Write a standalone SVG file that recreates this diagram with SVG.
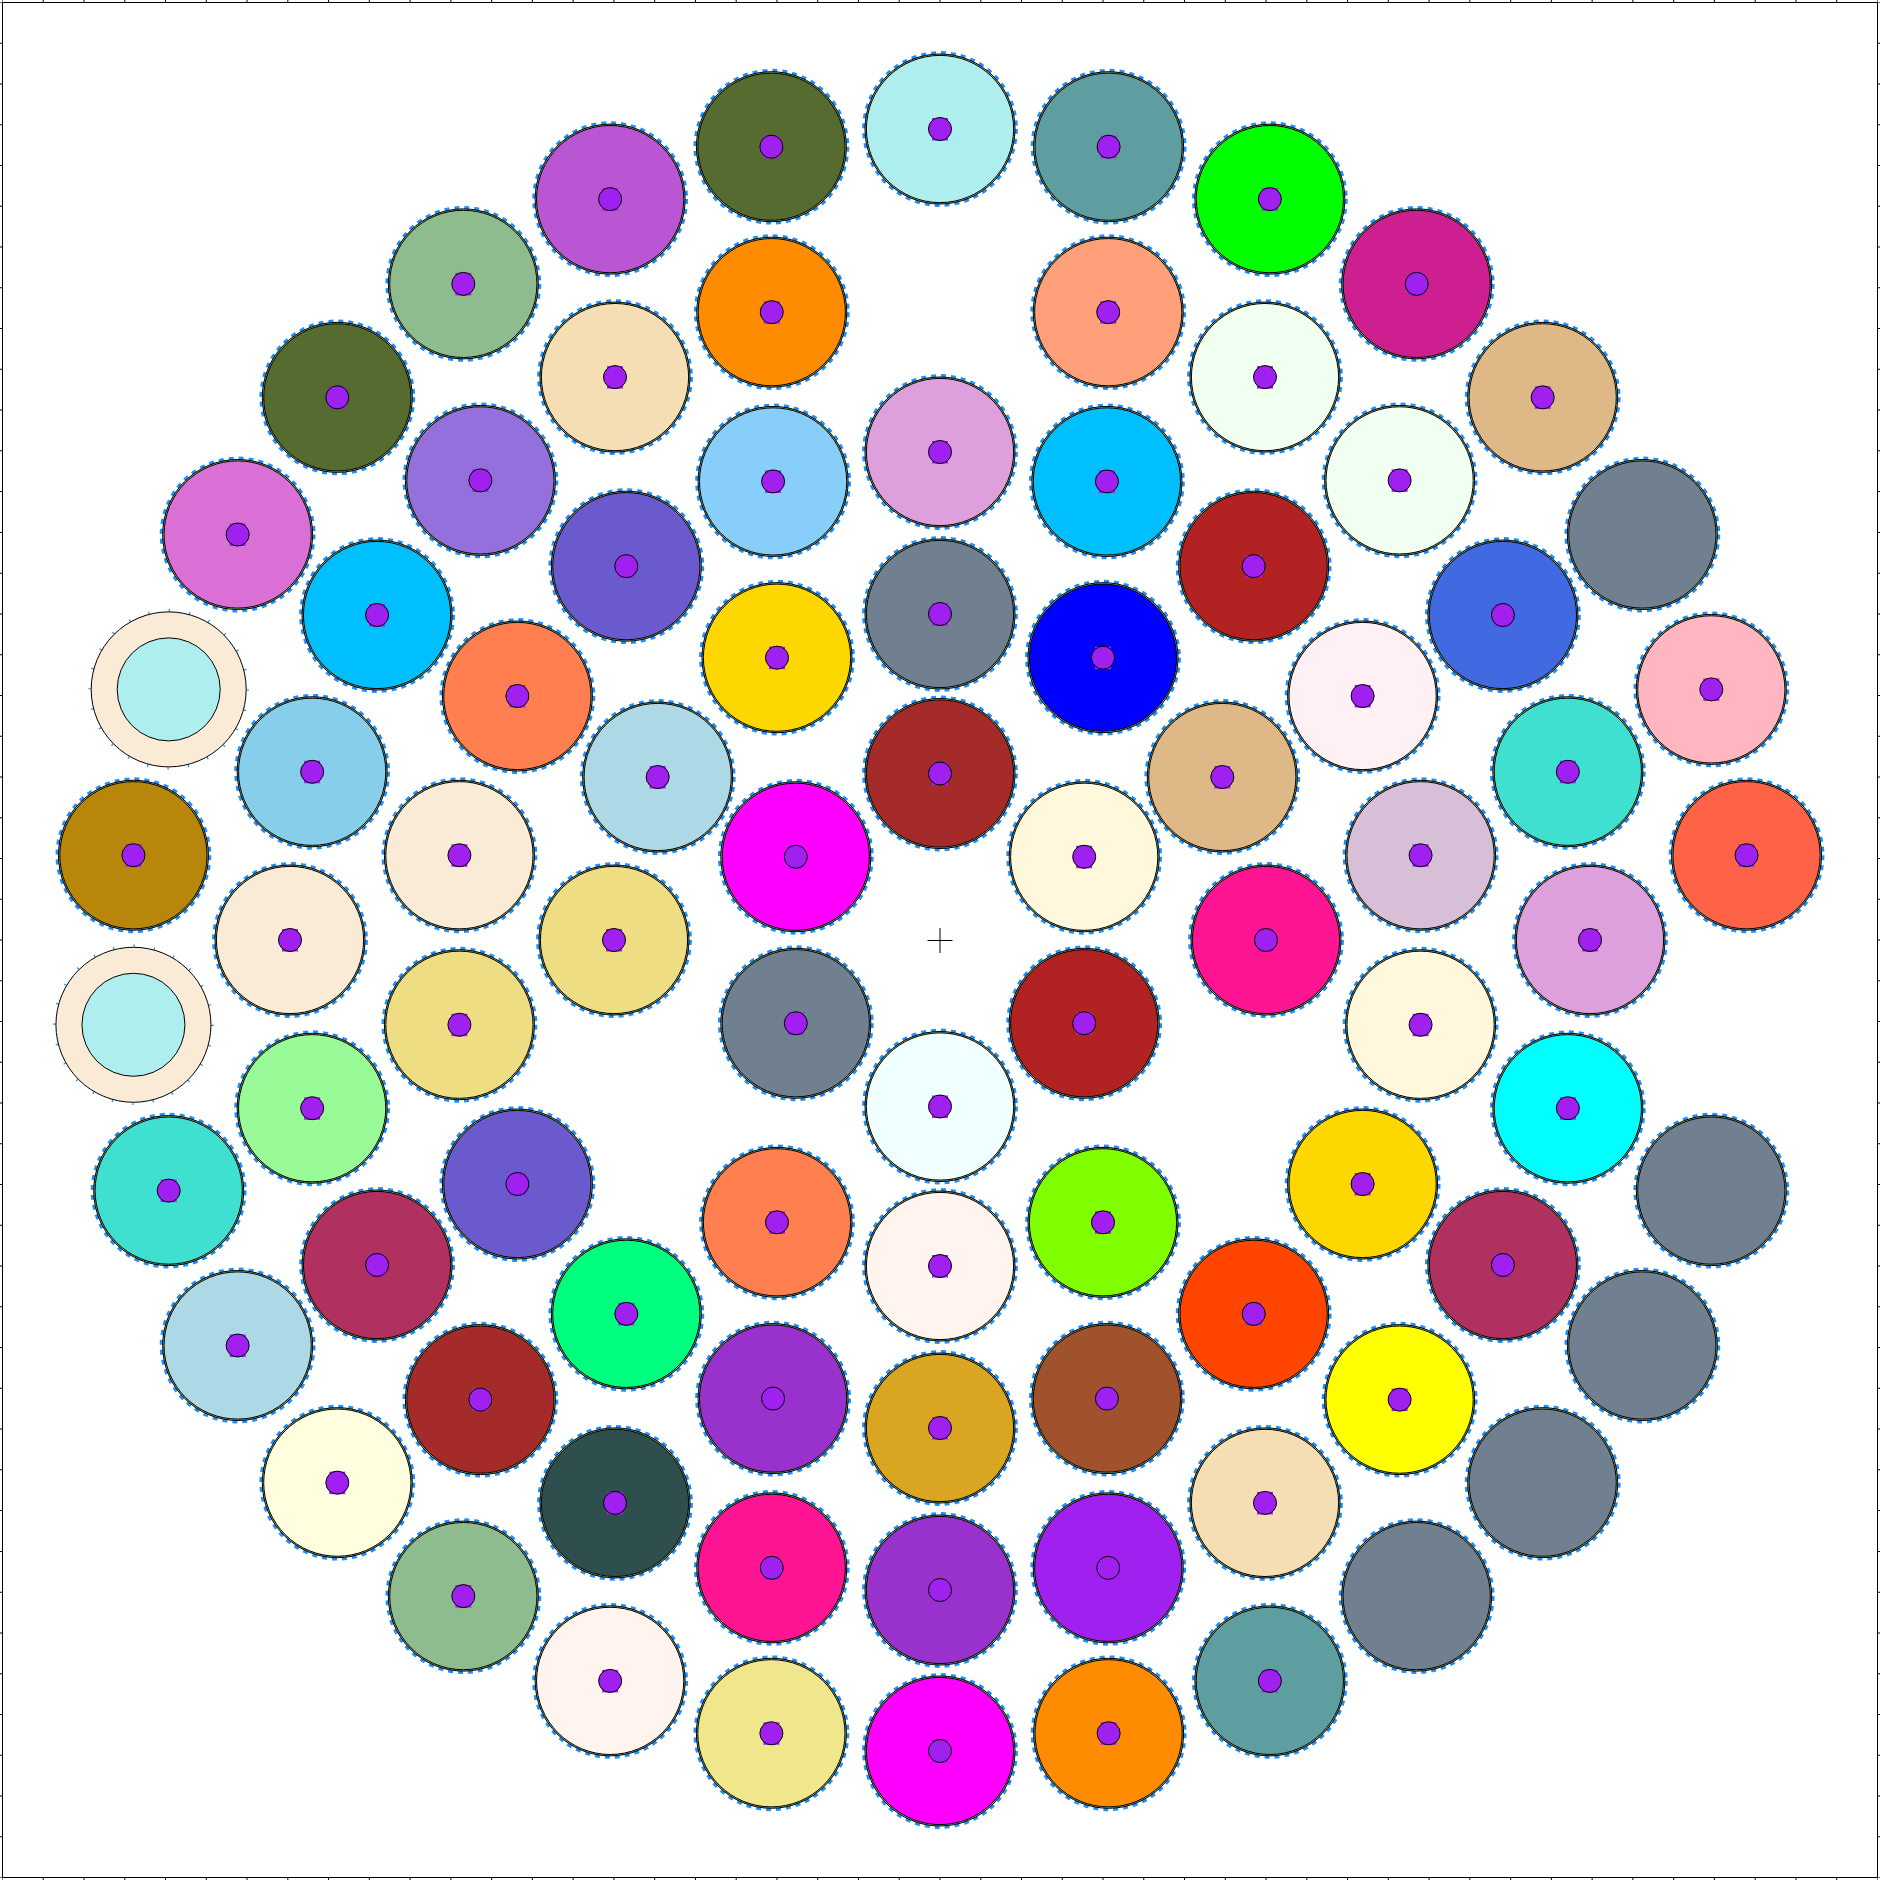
<svg xmlns="http://www.w3.org/2000/svg" xmlns:xlink="http://www.w3.org/1999/xlink" width="1880" height="1880" viewBox="0 0 1880 1880">
<style>
.c{stroke:#000;stroke-width:1}
.tk{stroke:#000;stroke-width:2.5;stroke-dasharray:1 39.76;stroke-dashoffset:0.5}
</style>
<defs>
<g id="rim"><circle r="76.3" fill="none" stroke="#1e90ff" stroke-width="3.2" stroke-dasharray="5 5"/><circle r="75" fill="#8fbc8f" stroke="#000" stroke-width="1"/></g>
<g id="dot"><rect x="-8" y="-11" width="16" height="22.5" fill="#a020f0"/><circle r="11.5" fill="#a020f0" stroke="#000" stroke-width="1"/></g>
<g id="spec"><circle r="78.8" fill="none" stroke="#1e90ff" stroke-width="3" stroke-dasharray="1.2 19.4"/><circle r="77.5" fill="#faebd7" stroke="#000" stroke-width="1"/><circle r="51.5" fill="#afeeee" stroke="#000" stroke-width="1"/></g>
</defs>
<rect width="1880" height="1880" fill="#fff"/>
<g id="frame">
<rect x="2.5" y="2.5" width="1875" height="1875" fill="none" stroke="#000" stroke-width="1"/>
<line class="tk" x1="2.5" y1="1.25" x2="1877.5" y2="1.25"/>
<line class="tk" x1="2.5" y1="1878.75" x2="1877.5" y2="1878.75"/>
<line class="tk" x1="1.25" y1="2.5" x2="1.25" y2="1877.5"/>
<line class="tk" x1="1878.75" y1="2.5" x2="1878.75" y2="1877.5"/>
</g>
<g id="center-mark" stroke="#000" stroke-width="1"><line x1="927.5" y1="940.5" x2="952.5" y2="940.5"/><line x1="940" y1="928" x2="940" y2="953"/></g>
<g id="connectors"/>
<!-- ring 1 -->
<g id="r1-000" transform="translate(940,773.5)"><use href="#rim"/><circle class="c" r="73.6" fill="#a52a2a"/><use href="#dot"/></g>
<g id="r1-060" transform="translate(1084.19,856.75)"><use href="#rim"/><circle class="c" r="73.6" fill="#fff8dc"/><use href="#dot"/></g>
<g id="r1-120" transform="translate(1084.19,1023.25)"><use href="#rim"/><circle class="c" r="73.6" fill="#b22222"/><use href="#dot"/></g>
<g id="r1-180" transform="translate(940,1106.5)"><use href="#rim"/><circle class="c" r="73.6" fill="#f0ffff"/><use href="#dot"/></g>
<g id="r1-240" transform="translate(795.81,1023.25)"><use href="#rim"/><circle class="c" r="73.6" fill="#708090"/><use href="#dot"/></g>
<g id="r1-300" transform="translate(795.81,856.75)"><use href="#rim"/><circle class="c" r="73.6" fill="#ff00ff"/><use href="#dot"/></g>
<!-- ring 2 -->
<g id="r2-000" transform="translate(940,614)"><use href="#rim"/><circle class="c" r="73.6" fill="#708090"/><use href="#dot"/></g>
<g id="r2-030" transform="translate(1103,657.68)"><use href="#rim"/><circle class="c" r="73.6" fill="#0000ff"/><use href="#dot"/></g>
<g id="r2-060" transform="translate(1222.32,777)"><use href="#rim"/><circle class="c" r="73.6" fill="#deb887"/><use href="#dot"/></g>
<g id="r2-090" transform="translate(1266,940)"><use href="#rim"/><circle class="c" r="73.6" fill="#ff1493"/><use href="#dot"/></g>
<g id="r2-150" transform="translate(1103,1222.32)"><use href="#rim"/><circle class="c" r="73.6" fill="#7fff00"/><use href="#dot"/></g>
<g id="r2-180" transform="translate(940,1266)"><use href="#rim"/><circle class="c" r="73.6" fill="#fff5ee"/><use href="#dot"/></g>
<g id="r2-210" transform="translate(777,1222.32)"><use href="#rim"/><circle class="c" r="73.6" fill="#ff7f50"/><use href="#dot"/></g>
<g id="r2-270" transform="translate(614,940)"><use href="#rim"/><circle class="c" r="73.6" fill="#eedd82"/><use href="#dot"/></g>
<g id="r2-300" transform="translate(657.68,777)"><use href="#rim"/><circle class="c" r="73.6" fill="#add8e6"/><use href="#dot"/></g>
<g id="r2-330" transform="translate(777,657.68)"><use href="#rim"/><circle class="c" r="73.6" fill="#ffd700"/><use href="#dot"/></g>
<!-- ring 3 -->
<g id="r3-000" transform="translate(940,452)"><use href="#rim"/><circle class="c" r="73.6" fill="#dda0dd"/><use href="#dot"/></g>
<g id="r3-020" transform="translate(1106.91,481.43)"><use href="#rim"/><circle class="c" r="73.6" fill="#00bfff"/><use href="#dot"/></g>
<g id="r3-040" transform="translate(1253.68,566.17)"><use href="#rim"/><circle class="c" r="73.6" fill="#b22222"/><use href="#dot"/></g>
<g id="r3-060" transform="translate(1362.62,696)"><use href="#rim"/><circle class="c" r="73.6" fill="#fff0f5"/><use href="#dot"/></g>
<g id="r3-080" transform="translate(1420.59,855.26)"><use href="#rim"/><circle class="c" r="73.6" fill="#d8bfd8"/><use href="#dot"/></g>
<g id="r3-100" transform="translate(1420.59,1024.74)"><use href="#rim"/><circle class="c" r="73.6" fill="#fff8dc"/><use href="#dot"/></g>
<g id="r3-120" transform="translate(1362.62,1184)"><use href="#rim"/><circle class="c" r="73.6" fill="#ffd700"/><use href="#dot"/></g>
<g id="r3-140" transform="translate(1253.68,1313.83)"><use href="#rim"/><circle class="c" r="73.6" fill="#ff4500"/><use href="#dot"/></g>
<g id="r3-160" transform="translate(1106.91,1398.57)"><use href="#rim"/><circle class="c" r="73.6" fill="#a0522d"/><use href="#dot"/></g>
<g id="r3-180" transform="translate(940,1428)"><use href="#rim"/><circle class="c" r="73.6" fill="#daa520"/><use href="#dot"/></g>
<g id="r3-200" transform="translate(773.09,1398.57)"><use href="#rim"/><circle class="c" r="73.6" fill="#9932cc"/><use href="#dot"/></g>
<g id="r3-220" transform="translate(626.32,1313.83)"><use href="#rim"/><circle class="c" r="73.6" fill="#00ff7f"/><use href="#dot"/></g>
<g id="r3-240" transform="translate(517.38,1184)"><use href="#rim"/><circle class="c" r="73.6" fill="#6a5acd"/><use href="#dot"/></g>
<g id="r3-260" transform="translate(459.41,1024.74)"><use href="#rim"/><circle class="c" r="73.6" fill="#eedd82"/><use href="#dot"/></g>
<g id="r3-280" transform="translate(459.41,855.26)"><use href="#rim"/><circle class="c" r="73.6" fill="#faebd7"/><use href="#dot"/></g>
<g id="r3-300" transform="translate(517.38,696)"><use href="#rim"/><circle class="c" r="73.6" fill="#ff7f50"/><use href="#dot"/></g>
<g id="r3-320" transform="translate(626.32,566.17)"><use href="#rim"/><circle class="c" r="73.6" fill="#6a5acd"/><use href="#dot"/></g>
<g id="r3-340" transform="translate(773.09,481.43)"><use href="#rim"/><circle class="c" r="73.6" fill="#87cefa"/><use href="#dot"/></g>
<!-- ring 4 -->
<g id="r4-015" transform="translate(1108.23,312.15)"><use href="#rim"/><circle class="c" r="73.6" fill="#ffa07a"/><use href="#dot"/></g>
<g id="r4-030" transform="translate(1265,377.08)"><use href="#rim"/><circle class="c" r="73.6" fill="#f0fff0"/><use href="#dot"/></g>
<g id="r4-045" transform="translate(1399.62,480.38)"><use href="#rim"/><circle class="c" r="73.6" fill="#f0fff0"/><use href="#dot"/></g>
<g id="r4-060" transform="translate(1502.92,615)"><use href="#rim"/><circle class="c" r="73.6" fill="#4169e1"/><use href="#dot"/></g>
<g id="r4-075" transform="translate(1567.85,771.77)"><use href="#rim"/><circle class="c" r="73.6" fill="#40e0d0"/><use href="#dot"/></g>
<g id="r4-090" transform="translate(1590,940)"><use href="#rim"/><circle class="c" r="73.6" fill="#dda0dd"/><use href="#dot"/></g>
<g id="r4-105" transform="translate(1567.85,1108.23)"><use href="#rim"/><circle class="c" r="73.6" fill="#00ffff"/><use href="#dot"/></g>
<g id="r4-120" transform="translate(1502.92,1265)"><use href="#rim"/><circle class="c" r="73.6" fill="#b03060"/><use href="#dot"/></g>
<g id="r4-135" transform="translate(1399.62,1399.62)"><use href="#rim"/><circle class="c" r="73.6" fill="#ffff00"/><use href="#dot"/></g>
<g id="r4-150" transform="translate(1265,1502.92)"><use href="#rim"/><circle class="c" r="73.6" fill="#f5deb3"/><use href="#dot"/></g>
<g id="r4-165" transform="translate(1108.23,1567.85)"><use href="#rim"/><circle class="c" r="73.6" fill="#a020f0"/><circle r="11.5" fill="none" stroke="#000"/></g>
<g id="r4-180" transform="translate(940,1590)"><use href="#rim"/><circle class="c" r="73.6" fill="#9932cc"/><use href="#dot"/></g>
<g id="r4-195" transform="translate(771.77,1567.85)"><use href="#rim"/><circle class="c" r="73.6" fill="#ff1493"/><use href="#dot"/></g>
<g id="r4-210" transform="translate(615,1502.92)"><use href="#rim"/><circle class="c" r="73.6" fill="#2f4f4f"/><use href="#dot"/></g>
<g id="r4-225" transform="translate(480.38,1399.62)"><use href="#rim"/><circle class="c" r="73.6" fill="#a52a2a"/><use href="#dot"/></g>
<g id="r4-240" transform="translate(377.08,1265)"><use href="#rim"/><circle class="c" r="73.6" fill="#b03060"/><use href="#dot"/></g>
<g id="r4-255" transform="translate(312.15,1108.23)"><use href="#rim"/><circle class="c" r="73.6" fill="#98fb98"/><use href="#dot"/></g>
<g id="r4-270" transform="translate(290,940)"><use href="#rim"/><circle class="c" r="73.6" fill="#faebd7"/><use href="#dot"/></g>
<g id="r4-285" transform="translate(312.15,771.77)"><use href="#rim"/><circle class="c" r="73.6" fill="#87ceeb"/><use href="#dot"/></g>
<g id="r4-300" transform="translate(377.08,615)"><use href="#rim"/><circle class="c" r="73.6" fill="#00bfff"/><use href="#dot"/></g>
<g id="r4-315" transform="translate(480.38,480.38)"><use href="#rim"/><circle class="c" r="73.6" fill="#9370db"/><use href="#dot"/></g>
<g id="r4-330" transform="translate(615,377.08)"><use href="#rim"/><circle class="c" r="73.6" fill="#f5deb3"/><use href="#dot"/></g>
<g id="r4-345" transform="translate(771.77,312.15)"><use href="#rim"/><circle class="c" r="73.6" fill="#ff8c00"/><use href="#dot"/></g>
<!-- ring 5 -->
<g id="r5-000" transform="translate(940,129)"><use href="#rim"/><circle class="c" r="73.6" fill="#afeeee"/><use href="#dot"/></g>
<g id="r5-012" transform="translate(1108.62,146.72)"><use href="#rim"/><circle class="c" r="73.6" fill="#5f9ea0"/><use href="#dot"/></g>
<g id="r5-024" transform="translate(1269.86,199.12)"><use href="#rim"/><circle class="c" r="73.6" fill="#00ff00"/><use href="#dot"/></g>
<g id="r5-036" transform="translate(1416.69,283.89)"><use href="#rim"/><circle class="c" r="73.6" fill="#cd1f8f"/><use href="#dot"/></g>
<g id="r5-048" transform="translate(1542.69,397.34)"><use href="#rim"/><circle class="c" r="73.6" fill="#deb887"/><use href="#dot"/></g>
<g id="r5-060" transform="translate(1642.35,534.5)"><use href="#rim"/><circle class="c" r="73.6" fill="#708090"/></g>
<g id="r5-072" transform="translate(1711.31,689.39)"><use href="#rim"/><circle class="c" r="73.6" fill="#ffb6c1"/><use href="#dot"/></g>
<g id="r5-084" transform="translate(1746.56,855.23)"><use href="#rim"/><circle class="c" r="73.6" fill="#ff6347"/><use href="#dot"/></g>
<g id="r5-108" transform="translate(1711.31,1190.61)"><use href="#rim"/><circle class="c" r="73.6" fill="#708090"/></g>
<g id="r5-120" transform="translate(1642.35,1345.5)"><use href="#rim"/><circle class="c" r="73.6" fill="#708090"/></g>
<g id="r5-132" transform="translate(1542.69,1482.66)"><use href="#rim"/><circle class="c" r="73.6" fill="#708090"/></g>
<g id="r5-144" transform="translate(1416.69,1596.11)"><use href="#rim"/><circle class="c" r="73.6" fill="#708090"/></g>
<g id="r5-156" transform="translate(1269.86,1680.88)"><use href="#rim"/><circle class="c" r="73.6" fill="#5f9ea0"/><use href="#dot"/></g>
<g id="r5-168" transform="translate(1108.62,1733.28)"><use href="#rim"/><circle class="c" r="73.6" fill="#ff8c00"/><use href="#dot"/></g>
<g id="r5-180" transform="translate(940,1751)"><use href="#rim"/><circle class="c" r="73.6" fill="#ff00ff"/><use href="#dot"/></g>
<g id="r5-192" transform="translate(771.38,1733.28)"><use href="#rim"/><circle class="c" r="73.6" fill="#f0e68c"/><use href="#dot"/></g>
<g id="r5-204" transform="translate(610.14,1680.88)"><use href="#rim"/><circle class="c" r="73.6" fill="#fff5ee"/><use href="#dot"/></g>
<g id="r5-216" transform="translate(463.31,1596.11)"><use href="#rim"/><circle class="c" r="73.6" fill="#8fbc8f"/><use href="#dot"/></g>
<g id="r5-228" transform="translate(337.31,1482.66)"><use href="#rim"/><circle class="c" r="73.6" fill="#ffffe0"/><use href="#dot"/></g>
<g id="r5-240" transform="translate(237.65,1345.5)"><use href="#rim"/><circle class="c" r="73.6" fill="#add8e6"/><use href="#dot"/></g>
<g id="r5-252" transform="translate(168.69,1190.61)"><use href="#rim"/><circle class="c" r="73.6" fill="#40e0d0"/><use href="#dot"/></g>
<g id="r5-264" transform="translate(133.44,1024.77)"><use href="#spec"/></g>
<g id="r5-276" transform="translate(133.44,855.23)"><use href="#rim"/><circle class="c" r="73.6" fill="#b8860b"/><use href="#dot"/></g>
<g id="r5-288" transform="translate(168.69,689.39)"><use href="#spec"/></g>
<g id="r5-300" transform="translate(237.65,534.5)"><use href="#rim"/><circle class="c" r="73.6" fill="#da70d6"/><use href="#dot"/></g>
<g id="r5-312" transform="translate(337.31,397.34)"><use href="#rim"/><circle class="c" r="73.6" fill="#556b2f"/><use href="#dot"/></g>
<g id="r5-324" transform="translate(463.31,283.89)"><use href="#rim"/><circle class="c" r="73.6" fill="#8fbc8f"/><use href="#dot"/></g>
<g id="r5-336" transform="translate(610.14,199.12)"><use href="#rim"/><circle class="c" r="73.6" fill="#ba55d3"/><use href="#dot"/></g>
<g id="r5-348" transform="translate(771.38,146.72)"><use href="#rim"/><circle class="c" r="73.6" fill="#556b2f"/><use href="#dot"/></g>
</svg>
